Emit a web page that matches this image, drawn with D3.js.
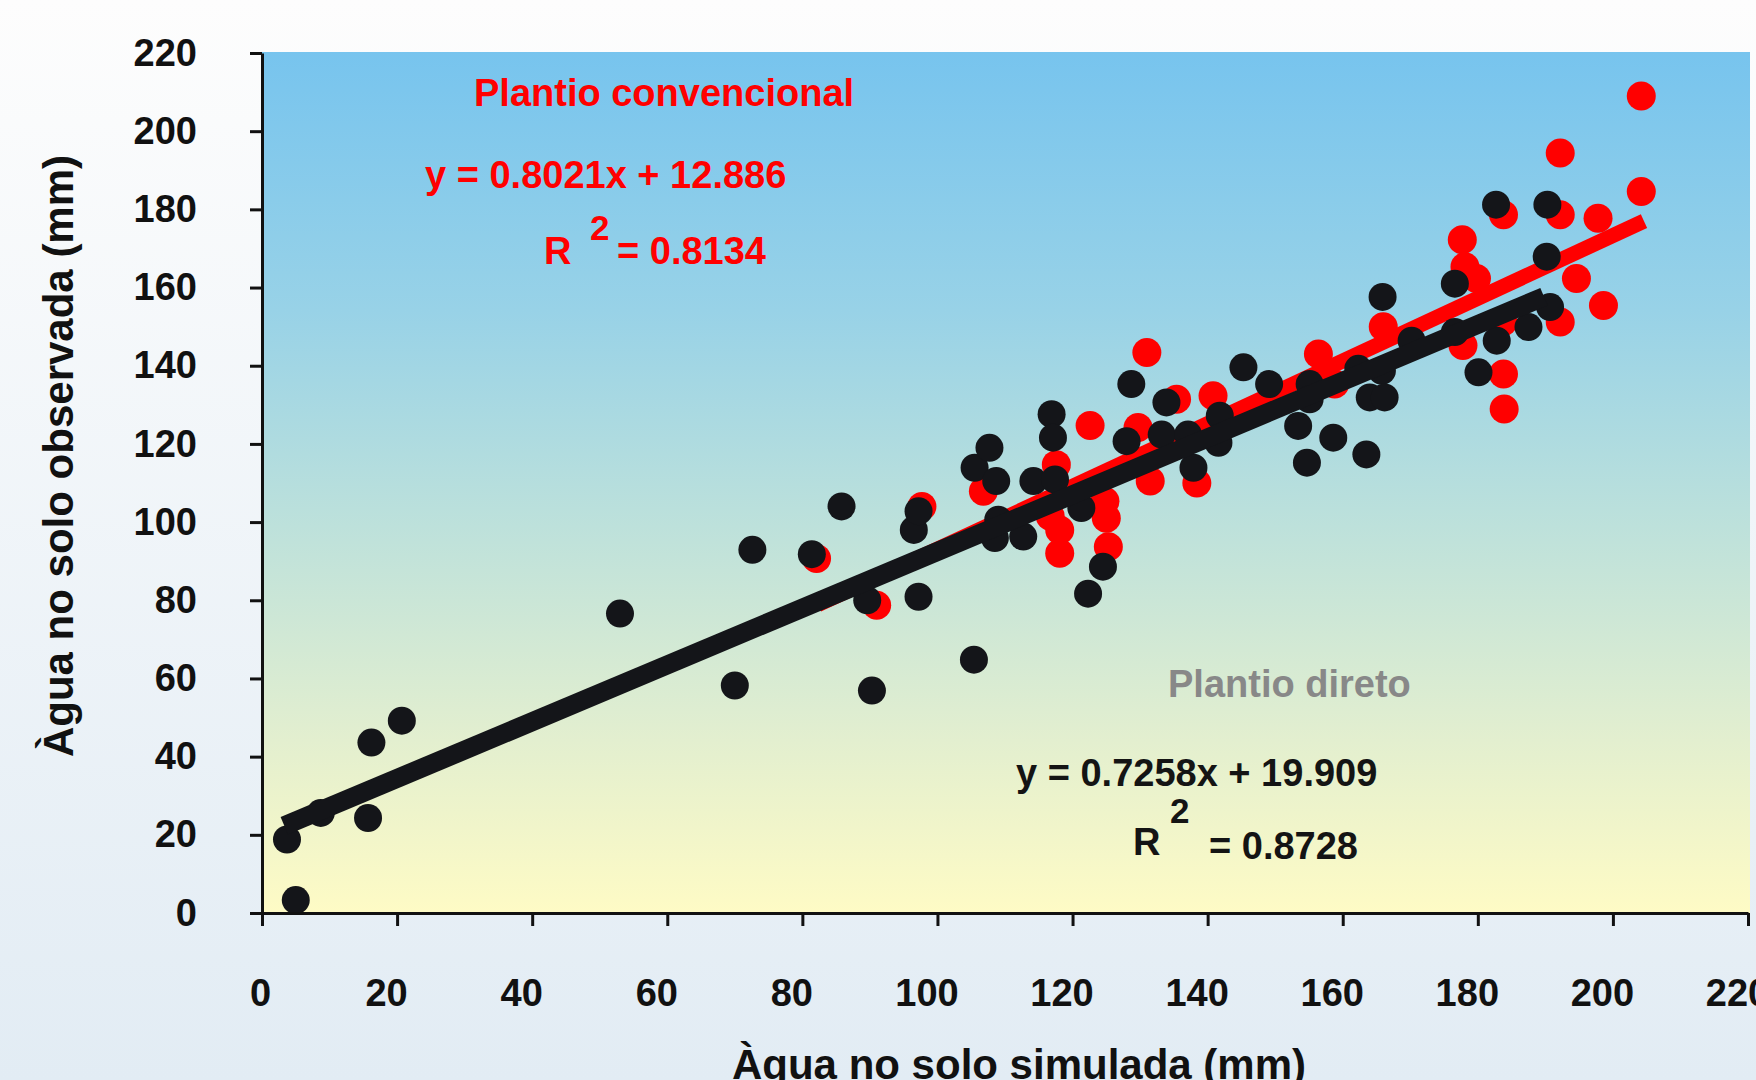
<!DOCTYPE html>
<html lang="pt">
<head>
<meta charset="UTF-8">
<title>Água no solo: simulada x observada</title>
<script src="https://d3js.org/d3.v7.min.js"></script>
<style>
  body { margin: 0; background: #ffffff; }
  svg { display: block; font-family: "Liberation Sans", Arial, sans-serif; font-weight: bold; }
</style>
</head>
<body>
<div id="chart"></div>
<script>
    const width = 1756, height = 1080;

    // axis ticks
    const xTicks = [0, 20, 40, 60, 80, 100, 120, 140, 160, 180, 200, 220];
    const yTicks = [0, 20, 40, 60, 80, 100, 120, 140, 160, 180, 200, 220];

    // Plantio convencional (red)
    const convX = [82.1, 91.0, 97.7, 106.8, 116.7, 117.6, 118.1, 118.1, 122.6, 124.8, 125.0, 125.3,
        129.7, 131.0, 131.5, 135.4, 138.4, 140.8, 156.4, 158.8, 166.0, 177.7, 178.1, 179.8,
        177.8, 183.8, 183.8, 183.9, 183.7, 192.2, 192.2, 194.6, 192.2, 197.8, 198.6, 204.2, 204.2];
    const convY = [90.7, 78.7, 104.0, 107.9, 101.5, 114.7, 98.0, 92.0, 124.7, 105.3, 101.0, 93.7,
        124.2, 143.4, 110.5, 131.4, 110.0, 132.3, 143.0, 135.3, 150.0, 172.2, 165.3, 162.3,
        145.2, 178.6, 137.9, 128.9, 151.2, 194.4, 178.6, 162.3, 151.2, 177.7, 155.4, 209.0, 184.6];

    // Plantio direto (black)
    const directX = [3.7, 5.0, 8.7, 15.7, 16.2, 20.7, 53.0, 70.0, 72.6, 81.4, 85.8, 89.6, 90.3,
        96.5, 97.2, 97.2, 105.4, 105.5, 107.7, 108.7, 109.0, 108.5, 112.7, 114.2, 116.9, 117.1,
        117.4, 121.3, 122.3, 124.5, 128.0, 128.7, 133.9, 133.2, 137.1, 137.9, 141.8, 141.6,
        145.3, 149.1, 153.4, 154.7, 155.1, 155.1, 158.6, 162.3, 163.5, 164.0, 165.8, 165.9,
        166.2, 170.2, 176.6, 176.6, 180.1, 182.7, 182.8, 187.5, 190.2, 190.3, 190.7];
    const directY = [18.8, 3.3, 25.6, 24.3, 43.6, 49.2, 76.6, 58.2, 92.9, 91.8, 104.0, 80.0, 56.9,
        98.0, 102.8, 80.9, 64.8, 113.9, 119.0, 110.5, 100.6, 95.9, 96.3, 110.5, 127.6, 121.6,
        110.9, 103.6, 81.7, 88.6, 120.7, 135.3, 130.6, 122.4, 122.4, 113.9, 127.2, 120.3,
        139.6, 135.3, 124.6, 115.2, 135.3, 131.4, 121.6, 139.2, 117.3, 131.9, 138.7, 157.6,
        131.9, 146.4, 161.0, 148.6, 138.3, 181.2, 146.4, 149.9, 167.9, 181.2, 155.0];

    // linear trendlines: slope, intercept, x range
    const convFit = [0.8021, 12.886];
    const convRange = [82.3, 204.6];
    const directFit = [0.7258, 19.909];
    const directRange = [3.3, 189.8];

    const svg = d3.select("#chart").append("svg")
        .attr("width", width)
        .attr("height", height);

    const x = d3.scaleLinear().domain([0, 220]).range([262, 1748]);
    const y = d3.scaleLinear().domain([0, 220]).range([913, 53]);

    const defs = svg.append("defs");
    const pageGrad = defs.append("linearGradient").attr("id", "pageBg")
        .attr("x1", 0).attr("y1", 0).attr("x2", 0).attr("y2", 1);
    pageGrad.append("stop").attr("offset", "0%").attr("stop-color", "#fdfdfd");
    pageGrad.append("stop").attr("offset", "100%").attr("stop-color", "#e2ecf4");

    const plotGrad = defs.append("linearGradient").attr("id", "plotBg")
        .attr("x1", 0).attr("y1", 0).attr("x2", 0).attr("y2", 1);
    [["0%", "#77c4ee"], ["30%", "#98d2e7"], ["55%", "#bde1db"], ["80%", "#e3efcf"], ["100%", "#fefbc5"]]
        .forEach(s => plotGrad.append("stop").attr("offset", s[0]).attr("stop-color", s[1]));

    svg.append("rect").attr("width", width).attr("height", height).attr("fill", "url(#pageBg)");
    svg.append("rect")
        .attr("x", x(0)).attr("y", 52)
        .attr("width", 1750 - x(0)).attr("height", y(0) - 52)
        .attr("fill", "url(#plotBg)");

    // red series + trend
    svg.append("g").selectAll("circle")
        .data(d3.zip(convX, convY))
        .join("circle")
        .attr("cx", d => x(d[0]))
        .attr("cy", d => y(d[1]))
        .attr("r", 14.5)
        .attr("fill", "#ff0000");

    svg.append("line")
        .attr("x1", x(convRange[0])).attr("y1", y(convFit[0] * convRange[0] + convFit[1]))
        .attr("x2", x(convRange[1])).attr("y2", y(convFit[0] * convRange[1] + convFit[1]))
        .attr("stroke", "#ff0000").attr("stroke-width", 15);

    // black series + trend
    svg.append("g").selectAll("circle")
        .data(d3.zip(directX, directY))
        .join("circle")
        .attr("cx", d => x(d[0]))
        .attr("cy", d => y(d[1]))
        .attr("r", 14)
        .attr("fill", "#141519");

    svg.append("line")
        .attr("x1", x(directRange[0])).attr("y1", y(directFit[0] * directRange[0] + directFit[1]))
        .attr("x2", x(directRange[1])).attr("y2", y(directFit[0] * directRange[1] + directFit[1]))
        .attr("stroke", "#141519").attr("stroke-width", 19);

    // axes
    const xAxis = svg.append("g")
        .attr("transform", `translate(0,${y(0)})`)
        .call(d3.axisBottom(x).tickValues(xTicks).tickFormat(d3.format("d"))
            .tickSize(13).tickSizeOuter(0).tickPadding(53));
    const yAxis = svg.append("g")
        .attr("transform", `translate(${x(0)},0)`)
        .call(d3.axisLeft(y).tickValues(yTicks).tickFormat(d3.format("d"))
            .tickSize(12).tickSizeOuter(0).tickPadding(53));

    [xAxis, yAxis].forEach(g => {
        g.select(".domain").attr("stroke", "#111").attr("stroke-width", 3);
        g.selectAll(".tick line").attr("stroke", "#111").attr("stroke-width", 3);
        g.selectAll(".tick text")
            .attr("fill", "#111")
            .style("font-size", "38px")
            .style("font-weight", "bold")
            .style("font-family", "'Liberation Sans', Arial, sans-serif");
    });
    xAxis.selectAll(".tick text").attr("dx", d => d === 0 ? -2 : -11);

    // axis titles
    svg.append("text")
        .attr("x", 1019).attr("y", 1079)
        .attr("text-anchor", "middle")
        .attr("fill", "#111")
        .style("font-size", "42px")
        .text("Àgua no solo simulada (mm)");

    svg.append("text")
        .attr("transform", "translate(73,456) rotate(-90)")
        .attr("text-anchor", "middle")
        .attr("fill", "#111")
        .style("font-size", "42px")
        .text("Àgua no solo observada (mm)");

    // annotations
    function note(tx, ty, str, color, size) {
        svg.append("text")
            .attr("x", tx).attr("y", ty)
            .attr("fill", color)
            .style("font-size", size + "px")
            .text(str);
    }
    note(474, 106, "Plantio convencional", "#ff0000", 38);
    note(425, 188, "y = 0.8021x + 12.886", "#ff0000", 38);
    note(544, 264, "R", "#ff0000", 38);
    note(590, 240, "2", "#ff0000", 35);
    note(617, 264, "= 0.8134", "#ff0000", 38);

    note(1168, 697, "Plantio direto", "#888888", 38);
    note(1016, 786, "y = 0.7258x + 19.909", "#141414", 38);
    note(1133, 855, "R", "#141414", 38);
    note(1170, 823, "2", "#141414", 35);
    note(1209, 859, "= 0.8728", "#141414", 38);
</script>
</body>
</html>
